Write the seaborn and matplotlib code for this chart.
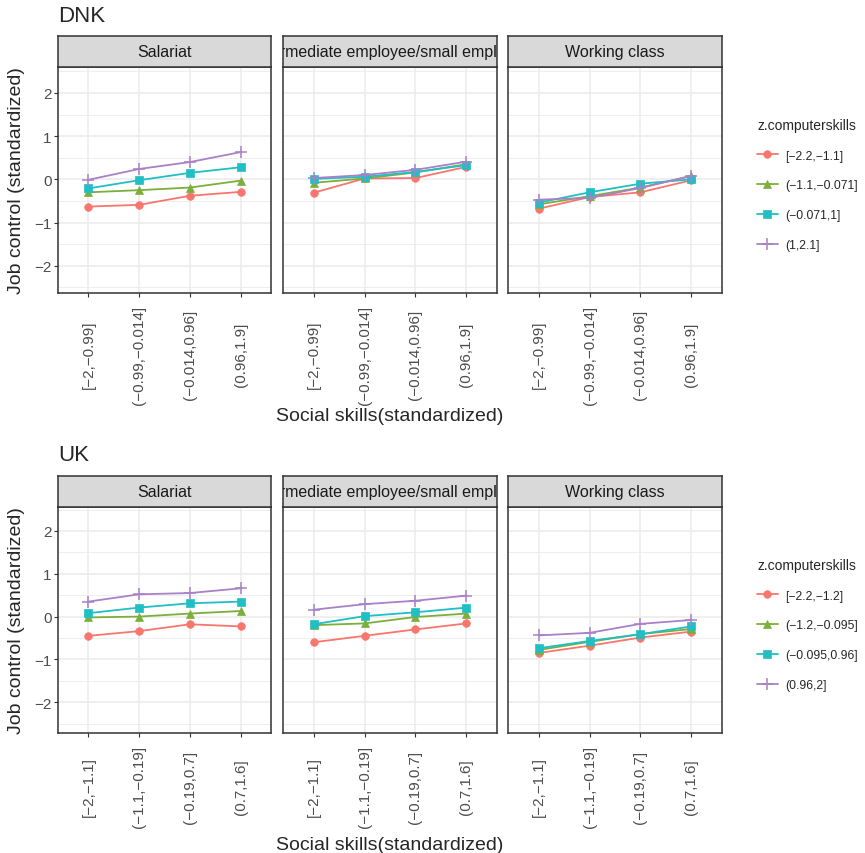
import pandas as pd
import matplotlib
matplotlib.use("Agg")
import matplotlib.pyplot as plt
import seaborn as sns

classes = ["Salariat", "Intermediate employee/small employer", "Working class"]

social_dnk = ["[−2,−0.99]", "(−0.99,−0.014]", "(−0.014,0.96]", "(0.96,1.9]"]
social_uk = ["[−2,−1.1]", "(−1.1,−0.19]", "(−0.19,0.7]", "(0.7,1.6]"]
computer_dnk = ["[−2.2,−1.1]", "(−1.1,−0.071]", "(−0.071,1]", "(1,2.1]"]
computer_uk = ["[−2.2,−1.2]", "(−1.2,−0.095]", "(−0.095,0.96]", "(0.96,2]"]

# rows: computer skill groups, columns: social skill groups
dnk_salariat = [[-0.63, -0.59, -0.38, -0.29],
                [-0.30, -0.25, -0.19, -0.03],
                [-0.21, -0.02, 0.15, 0.28],
                [-0.01, 0.24, 0.40, 0.63]]
dnk_intermediate = [[-0.31, 0.02, 0.03, 0.29],
                    [-0.08, 0.02, 0.16, 0.35],
                    [0.01, 0.06, 0.17, 0.33],
                    [0.03, 0.10, 0.22, 0.41]]
dnk_working = [[-0.68, -0.41, -0.30, -0.02],
               [-0.58, -0.39, -0.19, 0.08],
               [-0.54, -0.30, -0.10, 0.00],
               [-0.47, -0.43, -0.20, 0.08]]

uk_salariat = [[-0.45, -0.34, -0.18, -0.23],
               [-0.02, 0.00, 0.07, 0.13],
               [0.08, 0.21, 0.31, 0.35],
               [0.35, 0.52, 0.55, 0.66]]
uk_intermediate = [[-0.60, -0.45, -0.30, -0.16],
                   [-0.20, -0.16, -0.01, 0.07],
                   [-0.18, 0.01, 0.10, 0.21],
                   [0.16, 0.29, 0.37, 0.49]]
uk_working = [[-0.85, -0.68, -0.49, -0.35],
              [-0.78, -0.59, -0.41, -0.29],
              [-0.74, -0.57, -0.41, -0.23],
              [-0.44, -0.38, -0.17, -0.08]]


def long_table(panels, social, computer):
    rows = []
    for cls, panel in zip(classes, panels):
        for comp, series in zip(computer, panel):
            for soc, v in zip(social, series):
                rows.append((cls, comp, soc, v))
    return pd.DataFrame(rows, columns=["class", "computer", "social", "job_control"])


df_dnk = long_table([dnk_salariat, dnk_intermediate, dnk_working], social_dnk, computer_dnk)
df_uk = long_table([uk_salariat, uk_intermediate, uk_working], social_uk, computer_uk)

sns.set_theme(style="white")
plt.rcParams['font.family'] = ['Liberation Sans', 'DejaVu Sans']

W, H = 865, 854
fig = plt.figure(figsize=(W / 100, H / 100), dpi=100)

palette = ["#F8766D", "#7CAE3A", "#1FBFC4", "#A881C8"]
markers = ["o", "^", "s", "+"]
panel_x = [(58, 271), (283, 497), (508, 722)]
dark = "#333333"


def draw_country(df, name, social, computer, strip_top, plot_bot, ylim, label_off, xlab_off):
    strip_bot = strip_top + 31
    fig.text(58 / W, 1 - (strip_top - 21) / H, name, fontsize=16, ha="left", va="center")
    for i, (cls, (x0, x1)) in enumerate(zip(classes, panel_x)):
        ax = fig.add_axes([x0 / W, 1 - plot_bot / H, (x1 - x0) / W, (plot_bot - strip_bot) / H])
        sub = df[df["class"] == cls]
        sns.lineplot(data=sub, x="social", y="job_control", hue="computer",
                     hue_order=computer, palette=palette, sort=False,
                     legend=False, ax=ax, linewidth=1.3)
        for line, m in zip(ax.lines, markers):
            line.set_marker(m)
            line.set_markeredgecolor(line.get_color())
            if m == "+":
                line.set_markersize(9)
                line.set_markeredgewidth(1.1)
            else:
                line.set_markersize(5.5)
                line.set_markeredgewidth(0.5)
        ax.set_xlim(-0.6, 3.6)
        ax.set_ylim(*ylim)
        ax.set_yticks([-2, -1, 0, 1, 2])
        ax.set_yticks([-2.5, -1.5, -0.5, 0.5, 1.5, 2.5], minor=True)
        ax.set_xticks(ax.get_xticks(), labels=social, rotation=90, va="center")
        ax.grid(which="major", color="#EBEBEB", linewidth=1.1)
        ax.grid(which="minor", axis="y", color="#EBEBEB", linewidth=0.6)
        ax.set_axisbelow(True)
        for s in ax.spines.values():
            s.set_color(dark)
            s.set_linewidth(1.1)
        pad = (label_off - 3.8) / 1.389
        ax.tick_params(axis="x", which="major", bottom=True, length=2.75, width=0.8,
                       color=dark, pad=pad, labelsize=11, labelcolor="#4D4D4D")
        ax.tick_params(axis="y", which="minor", left=False)
        if i == 0:
            ax.tick_params(axis="y", which="major", left=True, length=2.75, width=0.8,
                           color=dark, pad=2, labelsize=11, labelcolor="#4D4D4D")
        else:
            ax.tick_params(axis="y", which="major", left=False, labelleft=False)
        ax.set_xlabel("")
        ax.set_ylabel("")

        sax = fig.add_axes([x0 / W, 1 - strip_bot / H, (x1 - x0) / W, (strip_bot - strip_top) / H])
        sax.set_facecolor("#D9D9D9")
        sax.set_xticks([])
        sax.set_yticks([])
        for s in sax.spines.values():
            s.set_color(dark)
            s.set_linewidth(1.1)
        sax.text(0.5, 0.5, cls, transform=sax.transAxes, ha="center", va="center",
                 fontsize=11.5, color="#1A1A1A", clip_on=True)
        last = ax

    mid = (strip_bot + plot_bot) / 2
    fig.text(17 / W, 1 - mid / H, "Job control (standardized)", rotation=90,
             ha="center", va="center", fontsize=14)
    fig.text(390 / W, 1 - (plot_bot + xlab_off) / H,
             "Social skills(standardized)", ha="center", va="center", fontsize=14)
    fig.legend(handles=last.lines[:4], labels=computer, title="z.computerskills",
               loc="upper left", bbox_to_anchor=(746 / W, 1 - (strip_top + 71) / H),
               frameon=False, fontsize=8.8, title_fontsize=10, alignment="left",
               handlelength=1.7, handletextpad=0.6, labelspacing=1.45)


draw_country(df_dnk, "DNK", social_dnk, computer_dnk, 37, 294, (-2.63, 2.60), 61, 123)
draw_country(df_uk, "UK", social_uk, computer_uk, 477, 734, (-2.72, 2.56), 53, 112)

fig.savefig("out.png", dpi=100)
